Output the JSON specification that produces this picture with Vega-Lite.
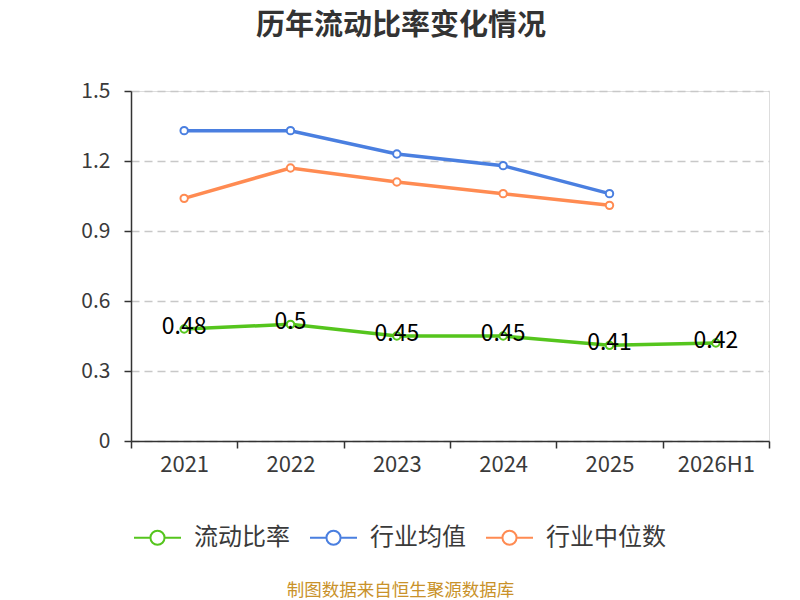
{
  "$schema": "https://vega.github.io/schema/vega-lite/v6.json",
  "description": "历年流动比率变化情况",
  "autosize": "none",
  "width": 638,
  "height": 350,
  "padding": {"left": 131, "top": 91, "right": 31, "bottom": 159},
  "background": "white",
  "title": {
    "text": "历年流动比率变化情况",
    "font": "Noto Sans CJK SC",
    "fontSize": 29,
    "fontWeight": "bold",
    "color": "#333333",
    "anchor": "middle",
    "dx": -49,
    "offset": 39
  },
  "data": {
    "values": [
      {"year": "2021", "series": "流动比率", "value": 0.48},
      {"year": "2022", "series": "流动比率", "value": 0.5},
      {"year": "2023", "series": "流动比率", "value": 0.45},
      {"year": "2024", "series": "流动比率", "value": 0.45},
      {"year": "2025", "series": "流动比率", "value": 0.41},
      {"year": "2026H1", "series": "流动比率", "value": 0.42},
      {"year": "2021", "series": "行业均值", "value": 1.33},
      {"year": "2022", "series": "行业均值", "value": 1.33},
      {"year": "2023", "series": "行业均值", "value": 1.23},
      {"year": "2024", "series": "行业均值", "value": 1.18},
      {"year": "2025", "series": "行业均值", "value": 1.06},
      {"year": "2021", "series": "行业中位数", "value": 1.04},
      {"year": "2022", "series": "行业中位数", "value": 1.17},
      {"year": "2023", "series": "行业中位数", "value": 1.11},
      {"year": "2024", "series": "行业中位数", "value": 1.06},
      {"year": "2025", "series": "行业中位数", "value": 1.01}
    ]
  },
  "encoding": {
    "x": {
      "field": "year",
      "type": "ordinal",
      "bandPosition": 0.5,
      "scale": {"type": "band", "paddingInner": 0, "paddingOuter": 0},
      "axis": {
        "title": "制图数据来自恒生聚源数据库",
        "titleFont": "Noto Sans CJK SC",
        "titleFontSize": 17.5,
        "titleFontWeight": "normal",
        "titleColor": "#c9922a",
        "titlePadding": 106,
        "titleX": 269,
        "titleAlign": "center",
        "labelAngle": 0,
        "labelFont": "Noto Sans CJK SC",
        "labelFontSize": 22,
        "labelColor": "#3a3a3a",
        "labelPadding": 6,
        "tickBand": "extent",
        "tickSize": 7,
        "tickColor": "#333333",
        "tickWidth": 1.5,
        "domainColor": "#333333",
        "domainWidth": 1.5,
        "grid": false
      }
    },
    "y": {
      "field": "value",
      "type": "quantitative",
      "scale": {"domain": [0, 1.5], "nice": false},
      "axis": {
        "title": null,
        "values": [0, 0.3, 0.6, 0.9, 1.2, 1.5],
        "format": "~g",
        "labelFont": "Noto Sans CJK SC",
        "labelFontSize": 21,
        "labelColor": "#3a3a3a",
        "labelPadding": 14,
        "tickSize": 7,
        "tickColor": "#333333",
        "tickWidth": 1.5,
        "domainColor": "#333333",
        "domainWidth": 1.5,
        "grid": true,
        "gridColor": "#c8c8c8",
        "gridDash": [8, 5],
        "gridWidth": 1.5
      }
    }
  },
  "layer": [
    {
      "mark": {"type": "line", "strokeWidth": 3.5},
      "encoding": {
        "color": {
          "field": "series",
          "type": "nominal",
          "sort": ["流动比率", "行业均值", "行业中位数"],
          "scale": {
            "domain": ["流动比率", "行业均值", "行业中位数"],
            "range": ["#55c51d", "#4a7fe0", "#ff8b52"]
          },
          "legend": {
            "title": null,
            "orient": "none",
            "direction": "horizontal",
            "legendX": 2,
            "legendY": 422,
            "symbolType": "M-1,0L-0.3,0M0.3,0A0.3,0.3,0,1,1,-0.3,0A0.3,0.3,0,1,1,0.3,0M0.3,0L1,0",
            "symbolSize": 2209,
            "symbolStrokeWidth": 2,
            "symbolFillColor": "white",
            "labelFont": "Noto Sans CJK SC",
            "labelFontSize": 24,
            "labelColor": "#3a3a3a",
            "labelOffset": 12,
            "columnPadding": 16
          }
        }
      }
    },
    {
      "mark": {"type": "point", "filled": true, "fill": "white", "size": 55, "strokeWidth": 2, "opacity": 1},
      "encoding": {
        "stroke": {
          "field": "series",
          "type": "nominal",
          "scale": {
            "domain": ["流动比率", "行业均值", "行业中位数"],
            "range": ["#55c51d", "#4a7fe0", "#ff8b52"]
          },
          "legend": null
        }
      }
    },
    {
      "transform": [{"filter": "datum.series === '流动比率'"}],
      "mark": {"type": "text", "font": "Noto Sans CJK SC", "fontSize": 23, "color": "#000000", "baseline": "middle", "dy": -2},
      "encoding": {
        "text": {"field": "value", "type": "quantitative", "format": "~g"}
      }
    }
  ]
}
